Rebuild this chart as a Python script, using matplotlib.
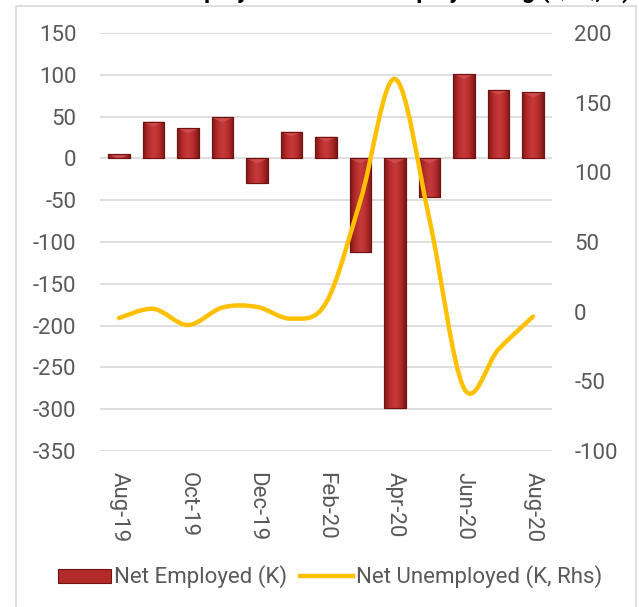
import matplotlib
matplotlib.use("Agg")
import matplotlib.pyplot as plt
import numpy as np
from matplotlib.path import Path
from matplotlib.patches import PathPatch, Rectangle
from matplotlib.lines import Line2D
from matplotlib.legend_handler import HandlerPatch
from matplotlib.colors import LinearSegmentedColormap

months = ["Aug-19", "Sep-19", "Oct-19", "Nov-19", "Dec-19", "Jan-20", "Feb-20",
          "Mar-20", "Apr-20", "May-20", "Jun-20", "Jul-20", "Aug-20"]
net_employed = [5, 44, 36, 49, -30, 32, 26, -112, -299, -46, 101, 82, 79]
net_unemployed = [-4.6, 2, -9.6, 3, 3.4, -5, 6.3, 80, 167, 66, -55, -27, -3.5]
left_ticks = [150, 100, 50, 0, -50, -100, -150, -200, -250, -300, -350]
right_ticks = [200, 150, 100, 50, 0, -50, -100]
title = "Net Employed vs Net Unemployed Chg (QoQ, K)"

FONT = ["Roboto", "DejaVu Sans"]
plt.rcParams['font.family'] = FONT
plt.rcParams['axes.unicode_minus'] = False
GRAY = "#595959"
BAR = "#b22a2a"
GOLD = "#FFC000"

W, H = 639, 607
fig = plt.figure(figsize=(W / 100, H / 100), dpi=100)
ax = fig.add_axes([100 / W, 1 - 451 / H, (552 - 100) / W, (451 - 33) / H])
ax2 = ax.twinx()

# outer chart border
fig.patches.append(Rectangle((16 / W, -0.01), (636 - 16) / W, 1 - 6 / H + 0.01,
                             transform=fig.transFigure, fill=False,
                             edgecolor="#d9d9d9", linewidth=1.2))

x = np.arange(len(months))
bars = ax.bar(x, net_employed, width=0.63, color=BAR, edgecolor="#7a1515",
              linewidth=0.8, zorder=2)
grad = np.linspace(0, 1, 64)
shade = 1 - np.abs(grad - 0.5) * 2
cmap = LinearSegmentedColormap.from_list("bev", ["#7e1818", "#b52b2b", "#c63a3a"])
for b in bars:
    x0, y0 = b.get_x(), b.get_y()
    w, h = b.get_width(), b.get_height()
    img = ax.imshow(shade[None, :], cmap=cmap, aspect="auto",
                    extent=[x0, x0 + w, y0, y0 + h], zorder=2.5,
                    interpolation="bilinear")
    img.set_clip_path(b)
    if h > 0:
        top = y0 + h
        verts = [(x0, top), (x0 + w, top), (x0 + w * 0.5, top - 6), (x0, top)]
    else:
        verts = [(x0, y0), (x0 + w, y0), (x0 + w * 0.5, y0 - 6), (x0, y0)]
    ax.add_patch(PathPatch(Path(verts), facecolor="#d65a5a", edgecolor="none",
                           alpha=0.6, zorder=2.6))
    ax.add_patch(Rectangle((x0, y0), w, h, fill=False, edgecolor="#6e1212",
                           linewidth=0.8, zorder=2.7))

ax.set_xlim(-0.55, len(months) - 0.45)
ax.set_ylim(-350, 150)
ax.set_yticks(left_ticks)
ax.grid(axis="y", color="#d9d9d9", linewidth=1.2, zorder=0)
ax.set_axisbelow(True)
ax.set_xticks(x[::2])
ax.set_xticklabels(months[::2], rotation=-90, fontsize=16, color=GRAY)
ax.tick_params(axis="x", length=0, pad=15)
ax.tick_params(axis="y", length=0, labelsize=16, labelcolor=GRAY, pad=17)
for s in ax.spines.values():
    s.set_visible(False)
for s in ax2.spines.values():
    s.set_visible(False)

# smoothed line (Excel-style Bezier through the data points)
pts = np.column_stack([x, net_unemployed]).astype(float)
n = len(pts)
verts = [tuple(pts[0])]
codes = [Path.MOVETO]
for i in range(n - 1):
    p0 = pts[i - 1] if i > 0 else pts[i]
    p1 = pts[i]
    p2 = pts[i + 1]
    p3 = pts[i + 2] if i + 2 < n else pts[i + 1]
    c1 = p1 + (p2 - p0) / 6.0
    c2 = p2 - (p3 - p1) / 6.0
    verts += [tuple(c1), tuple(c2), tuple(p2)]
    codes += [Path.CURVE4] * 3
ax2.add_patch(PathPatch(Path(verts, codes), facecolor="none", edgecolor=GOLD,
                        linewidth=3.2, capstyle="round", joinstyle="round", zorder=5))
ax2.set_ylim(-100, 200)
ax2.set_yticks(right_ticks)
ax2.tick_params(axis="y", length=0, labelsize=16, labelcolor=GRAY, pad=16)

# title (cut off at top as in the reference)
fig.text(127 / W, 1 + 2 / H, title, ha="left", va="baseline", fontsize=17,
         fontweight="bold", color="black")

# legend
class HandlerBar(HandlerPatch):
    def create_artists(self, legend, orig_handle, xdescent, ydescent, width, height, fontsize, trans):
        r = Rectangle((-xdescent, -ydescent + height * 0.05), width, height * 0.9,
                      facecolor=BAR, edgecolor="#6e1212", linewidth=0.8, transform=trans)
        return [r]

h1 = Rectangle((0, 0), 1, 1, facecolor=BAR)
h2 = Line2D([0], [0], color=GOLD, linewidth=3.2)
leg = fig.legend([h1, h2], ["Net Employed (K)", "Net Unemployed (K, Rhs)"],
                 loc="center", bbox_to_anchor=(330 / W, 1 - 577 / H), ncol=2,
                 frameon=False, fontsize=16, handlelength=2.4, handletextpad=0.1,
                 columnspacing=0.6, labelcolor=GRAY,
                 handler_map={Rectangle: HandlerBar()})

fig.savefig("out.png", dpi=100)
